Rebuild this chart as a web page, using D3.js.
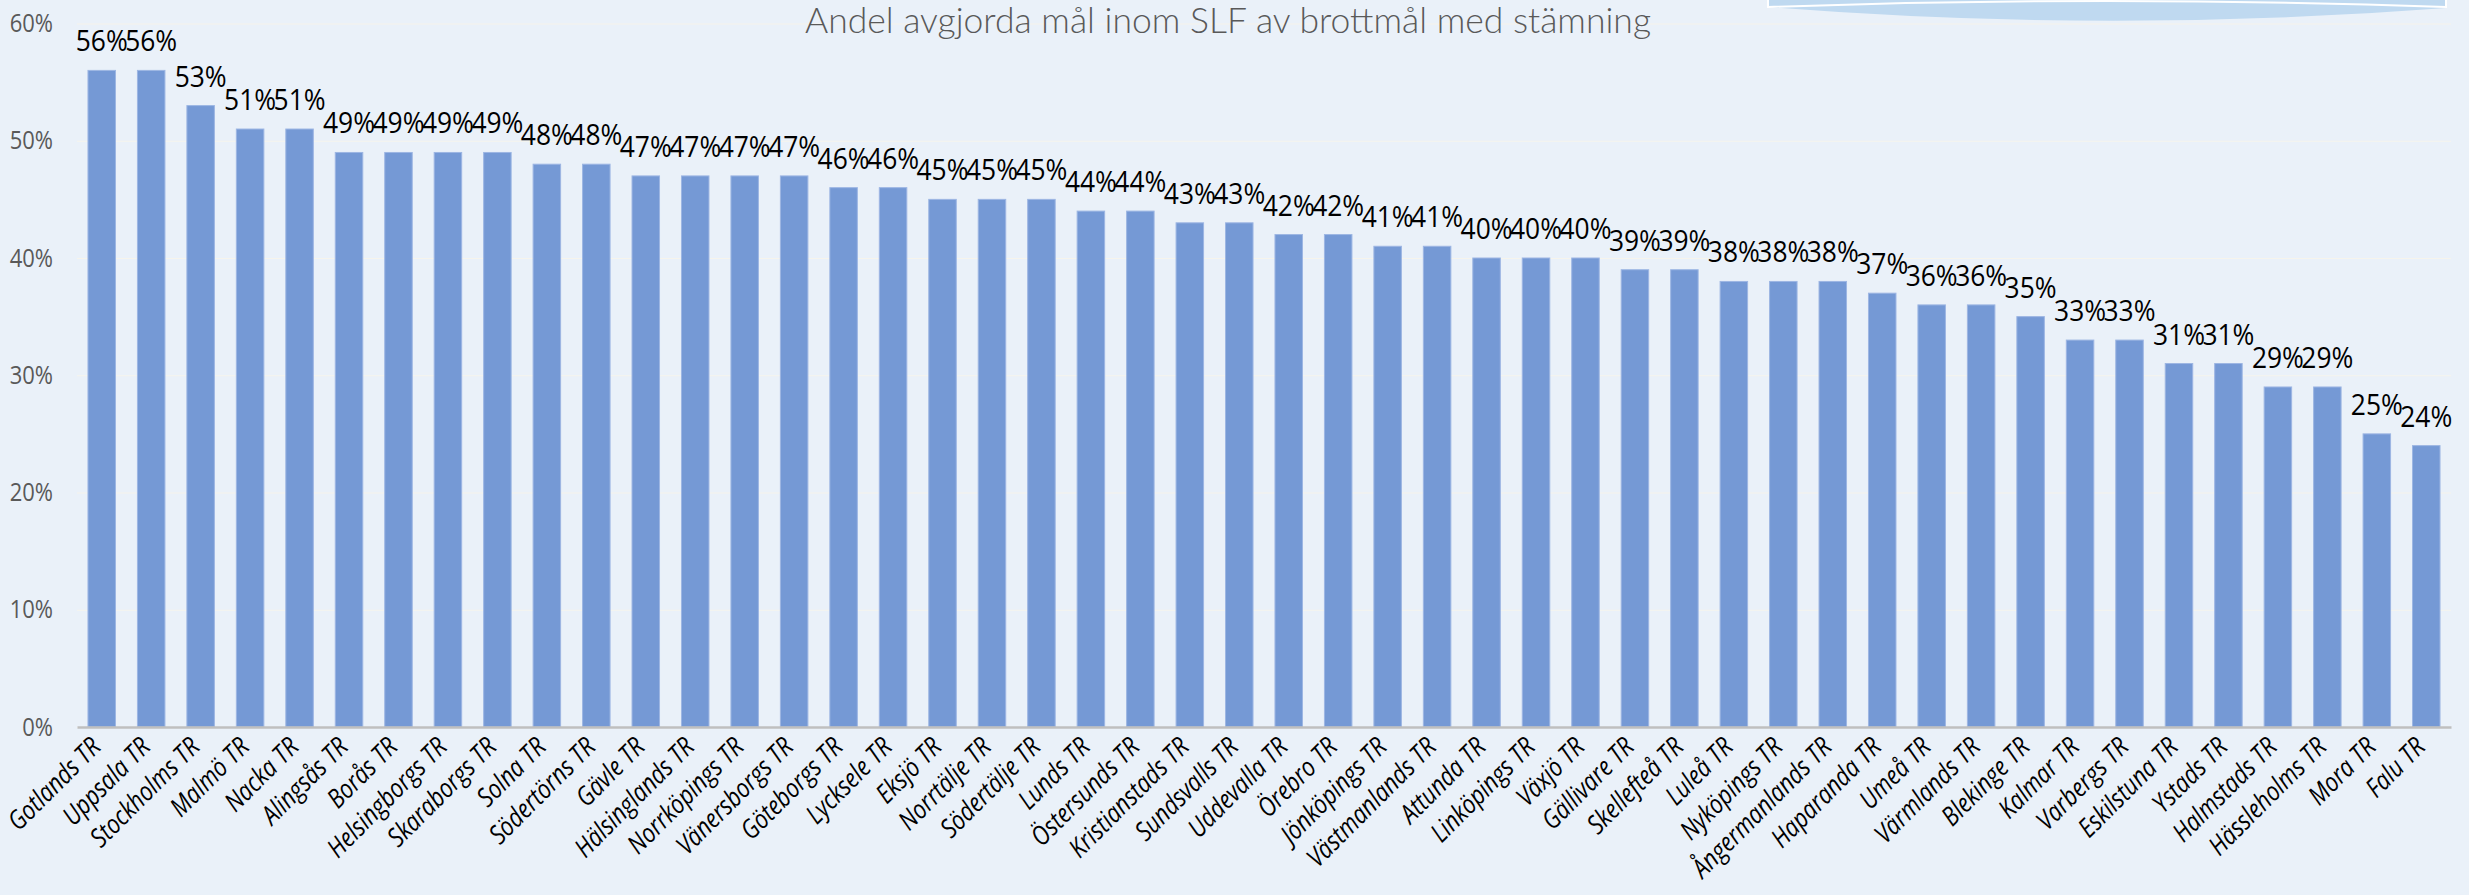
<!DOCTYPE html>
<html>
<head>
<meta charset="utf-8">
<script src="https://cdn.jsdelivr.net/npm/d3@7"></script>
<style>
  html, body { margin: 0; padding: 0; background: #eaf1f9; }
  svg { display: block; }
</style>
</head>
<body>
<div id="chart"></div>
<script>
'use strict';

const title = 'Andel avgjorda mål inom SLF av brottmål med stämning';

const courts = [
    'Gotlands TR', 'Uppsala TR', 'Stockholms TR', 'Malmö TR', 'Nacka TR', 'Alingsås TR',
    'Borås TR', 'Helsingborgs TR', 'Skaraborgs TR', 'Solna TR', 'Södertörns TR', 'Gävle TR',
    'Hälsinglands TR', 'Norrköpings TR', 'Vänersborgs TR', 'Göteborgs TR', 'Lycksele TR', 'Eksjö TR',
    'Norrtälje TR', 'Södertälje TR', 'Lunds TR', 'Östersunds TR', 'Kristianstads TR', 'Sundsvalls TR',
    'Uddevalla TR', 'Örebro TR', 'Jönköpings TR', 'Västmanlands TR', 'Attunda TR', 'Linköpings TR',
    'Växjö TR', 'Gällivare TR', 'Skellefteå TR', 'Luleå TR', 'Nyköpings TR', 'Ångermanlands TR',
    'Haparanda TR', 'Umeå TR', 'Värmlands TR', 'Blekinge TR', 'Kalmar TR', 'Varbergs TR',
    'Eskilstuna TR', 'Ystads TR', 'Halmstads TR', 'Hässleholms TR', 'Mora TR', 'Falu TR'
];

// share of cases, in percent
const shares = [
    56, 56, 53, 51, 51, 49,
    49, 49, 49, 48, 48, 47,
    47, 47, 47, 46, 46, 45,
    45, 45, 44, 44, 43, 43,
    42, 42, 41, 41, 40, 40,
    40, 39, 39, 38, 38, 38,
    37, 36, 36, 35, 33, 33,
    31, 31, 29, 29, 25, 24
];

const yTicks = [0, 0.1, 0.2, 0.3, 0.4, 0.5, 0.6];

(function () {
    const W = 2469, H = 895;
    const margin = {left: 77, right: 2451, top: 23.5, bottom: 727};
    // no Calibri here, so squeeze Open Sans a bit to get close to its width
    const font = '"Open Sans", sans-serif';

    const data = courts.map((c, i) => ({court: c, value: shares[i] / 100}));

    const x = d3.scaleBand()
        .domain(courts)
        .range([margin.left, margin.right])
        .paddingInner(0.444)
        .paddingOuter(0.222);

    const y = d3.scaleLinear()
        .domain([0, 0.6])
        .range([margin.bottom, margin.top]);

    const svg = d3.select('#chart').append('svg')
        .attr('width', W)
        .attr('height', H)
        .attr('viewBox', [0, 0, W, H]);

    svg.append('rect')
        .attr('width', W).attr('height', H)
        .attr('fill', '#eaf1f9');

    // gridlines + y tick labels
    svg.append('g')
        .attr('transform', `translate(${margin.left}, 0)`)
        .call(d3.axisLeft(y)
            .tickValues(yTicks)
            .tickFormat(d3.format('.0%'))
            .tickSize(-(margin.right - margin.left)))
        .call(g => g.select('.domain').remove())
        .call(g => g.selectAll('line')
            .attr('stroke', '#f6f4ec')
            .attr('stroke-width', 1.2))
        .call(g => g.selectAll('text')
            .attr('x', 0)
            .attr('transform', 'translate(-24, 0) scale(0.88, 1)')
            .attr('fill', '#595959')
            .style('font-family', font)
            .style('font-size', '25px'));

    // bit of a cut-off shape at the top right
    svg.append('path')
        .attr('d', 'M1768,0 L1768,7 Q2107,34 2446,8 L2446,0 Z')
        .attr('fill', '#bfd9f0');
    svg.append('path')
        .attr('d', 'M1768,0 L1768,7 Q2107,-5 2446,7 L2446,0')
        .attr('fill', 'none')
        .attr('stroke', '#fff')
        .attr('stroke-width', 2);

    // title
    svg.append('text')
        .attr('x', 1228)
        .attr('y', 33)
        .attr('text-anchor', 'middle')
        .attr('fill', '#595959')
        .style('font-family', 'Lato, "Open Sans", sans-serif')
        .style('font-weight', 300)
        .style('font-size', '35.5px')
        .text(title);

    // bars
    svg.append('g')
        .selectAll('rect')
        .data(data)
        .join('rect')
            .attr('x', d => x(d.court))
            .attr('y', d => y(d.value))
            .attr('width', x.bandwidth())
            .attr('height', d => y(0) - y(d.value))
            .attr('fill', '#7599d5')
            .attr('stroke', '#9db6e3')
            .attr('stroke-width', 1);

    // value labels
    svg.append('g')
        .selectAll('text')
        .data(data)
        .join('text')
            .attr('transform', d =>
                `translate(${x(d.court) + x.bandwidth() / 2}, ${y(d.value) - 19}) scale(0.88, 1)`)
            .attr('text-anchor', 'middle')
            .attr('fill', '#000')
            .style('font-family', font)
            .style('font-size', '30px')
            .text(d => d3.format('.0%')(d.value));

    // x axis
    svg.append('g')
        .attr('transform', `translate(0, ${margin.bottom})`)
        .call(d3.axisBottom(x).tickSize(0).tickPadding(0))
        .call(g => g.select('.domain')
            .attr('stroke', '#bfbfbf')
            .attr('stroke-width', 2.6))
        .call(g => g.selectAll('.tick text')
            .attr('y', 0)
            .attr('dy', '0.35em')
            .attr('transform', 'translate(-6, 15) rotate(-45) scale(0.84, 1)')
            .attr('text-anchor', 'end')
            .attr('fill', '#000')
            .style('font-family', font)
            .style('font-style', 'italic')
            .style('font-size', '26.5px'));
})();
</script>
</body>
</html>
